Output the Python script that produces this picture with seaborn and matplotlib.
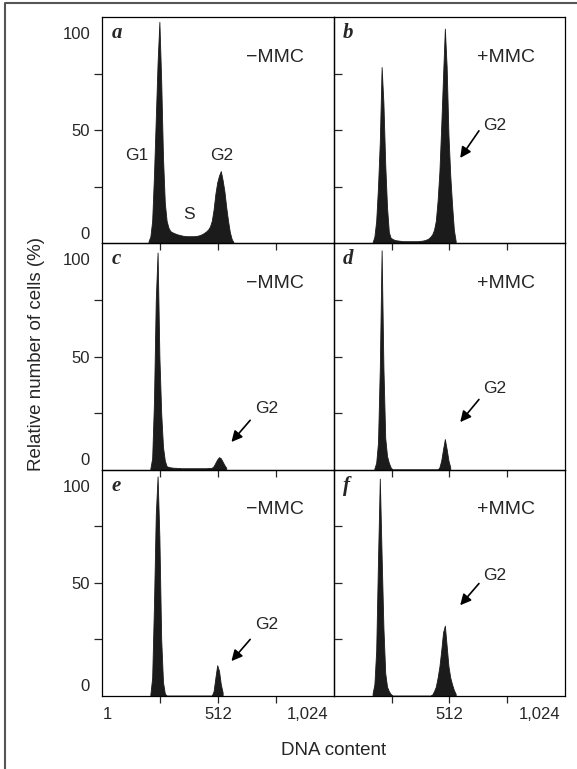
"""Flow-cytometry DNA-content histograms, panels a-f (-/+ MMC)."""
import matplotlib
matplotlib.use("Agg")  # non-interactive backend
import matplotlib.pyplot as plt
import numpy as np
import pandas as pd
import seaborn as sns
from matplotlib.lines import Line2D
from matplotlib.transforms import ScaledTranslation

# channels are grouped in bins 8 units wide; each list starts at its *_start channel
BIN_WIDTH = 8

a_start = 200
a_counts = [1, 3, 10, 30, 55, 80, 98, 72, 38, 18, 10, 7, 5.5, 5, 4.6, 4.3, 4,
            3.8, 3.6, 3.4, 3.3, 3.2, 3.2, 3.2, 3.2, 3.2, 3.3, 3.4, 3.6, 3.9,
            4.3, 4.8, 5.4, 6.2, 7.5, 10, 15, 22, 27, 30, 32, 28, 23, 16, 10,
            5, 2, 0.5]

b_start = 168
b_counts = [0.5, 3, 10, 25, 45, 78, 62, 35, 16, 5, 2.5, 2, 1.6, 1.4, 1.3, 1.2,
            1.1, 1, 1, 1, 1, 1, 1, 1, 1, 1, 1.1, 1.2, 1.3, 1.5, 1.8, 2.2, 3, 4,
            6, 10, 19, 32, 52, 74, 95, 78, 48, 30, 17, 6, 1]

c_start = 208
c_counts = [0.5, 5, 30, 75, 96, 50, 25, 10, 4, 1.5, 1.2, 1, 0.9, 0.8, 0.8,
            0.7, 0.7, 0.6, 0.6, 0.6, 0.6, 0.6, 0.6, 0.6, 0.6, 0.6, 0.6, 0.6,
            0.6, 0.6, 0.6, 0.6, 0.7, 0.7, 0.8, 1.5, 3, 4.5, 5.5, 5, 3.5, 2,
            0.8]

d_start = 176
d_counts = [0.5, 3, 12, 45, 97, 45, 14, 6, 3, 1,
            0, 0, 0, 0, 0, 0, 0, 0, 0, 0, 0, 0, 0, 0, 0, 0, 0, 0, 0, 0, 0, 0,
            0, 0, 0, 0,
            1, 4, 9, 13.5, 9, 4, 1]

e_start = 208
e_counts = [0.5, 8, 40, 80, 97, 70, 25, 6, 1,
            0, 0, 0, 0, 0, 0, 0, 0, 0, 0, 0, 0, 0, 0, 0, 0, 0, 0, 0, 0, 0, 0,
            0, 0, 0, 0,
            2, 8, 13.5, 11, 5, 1.5]

f_start = 168
f_counts = [1, 5, 20, 60, 96, 62, 30, 10, 4, 2, 0.8,
            0, 0, 0, 0, 0, 0, 0, 0, 0, 0, 0, 0, 0, 0, 0, 0, 0, 0, 0, 0, 0, 0,
            0.5, 2, 4, 8, 13, 20, 28, 31, 22, 13, 8, 5, 2.5, 0.8]

panel_letters = ["a", "b", "c", "d", "e", "f"]
treatments = ["\u2212MMC", "+MMC", "\u2212MMC", "+MMC", "\u2212MMC", "+MMC"]

x_ticks = [0, 256, 512, 768, 1024]
x_labels_left = ["1", "", "512", "", "1,024"]
x_labels_right = ["", "", "512", "", "1,024"]
y_ticks = [0, 25, 50, 75, 100]
y_labels = ["0", "", "50", "", "100"]

HIST_COLOR = "#1b1b1b"


def draw_histogram(ax, start, counts):
    """Filled histogram polygon from per-bin counts starting at `start`."""
    n = len(counts)
    df = pd.DataFrame({
        "channel": start + BIN_WIDTH * (np.arange(n) + 0.5),
        "count": np.asarray(counts, dtype=float),
    })
    sns.histplot(
        data=df, x="channel", weights="count",
        binwidth=BIN_WIDTH, binrange=(start, start + BIN_WIDTH * n),
        element="poly", fill=True, color=HIST_COLOR, alpha=1,
        linewidth=0.6, ax=ax,
    )
    ax.set_xlabel("")
    ax.set_ylabel("")


def shift(fig, text, dx_px, dy_px):
    off = ScaledTranslation(dx_px / 100, dy_px / 100, fig.dpi_scale_trans)
    text.set_transform(text.get_transform() + off)


sns.set_style("ticks")
plt.rcParams["font.family"] = ["Liberation Sans", "DejaVu Sans"]

fig, axes = plt.subplots(3, 2, figsize=(5.77, 7.69), dpi=100)
fig.subplots_adjust(left=0.1776, right=0.9792, bottom=0.0953, top=0.9775,
                    wspace=0, hspace=0)

data = [(a_start, a_counts), (b_start, b_counts), (c_start, c_counts),
        (d_start, d_counts), (e_start, e_counts), (f_start, f_counts)]

# G2 label position and arrow (tail, head) for each panel, in data units
g2_marks = {
    "b": ((712, 52), (643, 49.8), (560, 37.8)),
    "c": ((728, 27), (654, 21.8), (571, 12.2)),
    "d": ((712, 35.8), (643, 31), (560, 21)),
    "e": ((728, 31.5), (654, 24.9), (571, 15.3)),
    "f": ((712, 53.2), (643, 49.6), (560, 40)),
}

for i, ax in enumerate(axes.flat):
    row, col = divmod(i, 2)
    start, counts = data[i]
    letter = panel_letters[i]

    draw_histogram(ax, start, counts)
    ax.set_facecolor("none")
    ax.set_xlim(0, 1024)
    ax.set_ylim(0, 100)
    for sp in ax.spines.values():
        sp.set_visible(True)
        sp.set_linewidth(0.9)
        sp.set_color("black")

    ax.tick_params(axis="x", direction="out", length=5, width=0.9, pad=3,
                   labelsize=12, labelbottom=(row == 2))
    if col == 0:
        ax.tick_params(axis="y", direction="out", length=6, width=0.9,
                       pad=2.9, labelsize=12)
    else:
        ax.tick_params(axis="y", direction="in", length=6, width=0.9,
                       labelleft=False)

    ax.set_xticks(x_ticks, labels=x_labels_left if col == 0 else x_labels_right)
    ax.set_yticks(y_ticks, labels=y_labels if col == 0 else [""] * 5)

    xt = ax.xaxis.get_major_ticks()
    yt = ax.yaxis.get_major_ticks()
    for t in (xt[0], xt[-1], yt[0], yt[-1]):
        t.tick1line.set_visible(False)

    if row == 2:
        xt[0].label1.set_horizontalalignment("left")
        xt[-1].label1.set_horizontalalignment("right")
        shift(fig, xt[-1].label1, -5, 0)
    if col == 0:
        shift(fig, yt[0].label1, 0, 10.5)
        shift(fig, yt[-1].label1, 0, -16)

    ax.text(0.038, 0.907, letter, transform=ax.transAxes, ha="left",
            va="baseline", fontsize=15, fontweight="bold", fontstyle="italic",
            family=["Liberation Serif", "DejaVu Serif"])
    ax.text(0.745, 0.804, treatments[i], transform=ax.transAxes,
            ha="center", va="baseline", fontsize=14)

    if letter == "a":
        ax.text(153, 38.9, "G1", ha="center", va="center", fontsize=12.5)
        ax.text(527, 38.9, "G2", ha="center", va="center", fontsize=12.5)
        ax.text(383, 12.8, "S", ha="center", va="center", fontsize=12.5)
    else:
        (lx, ly), tail, head = g2_marks[letter]
        ax.text(lx, ly, "G2", ha="center", va="center", fontsize=12.5)
        ax.annotate("", xy=head, xytext=tail,
                    arrowprops=dict(arrowstyle="-|>", color="black", lw=1.2,
                                    mutation_scale=16, shrinkA=0, shrinkB=0))

fig.text(37 / 577, 1 - 354 / 769, "Relative number of cells (%)",
         rotation=90, ha="center", va="center", fontsize=13.5)
fig.text(333.5 / 577, 1 - 755 / 769, "DNA content", ha="center",
         va="baseline", fontsize=13.5)

# partial outer frame (top and left edges only)
fig.add_artist(Line2D([0.0092, 0.0092, 1.0], [0.0, 0.9964, 0.9964],
                      transform=fig.transFigure, color="#555555", lw=1.5))

fig.savefig("out.png", dpi=100, facecolor="white")
plt.close(fig)
